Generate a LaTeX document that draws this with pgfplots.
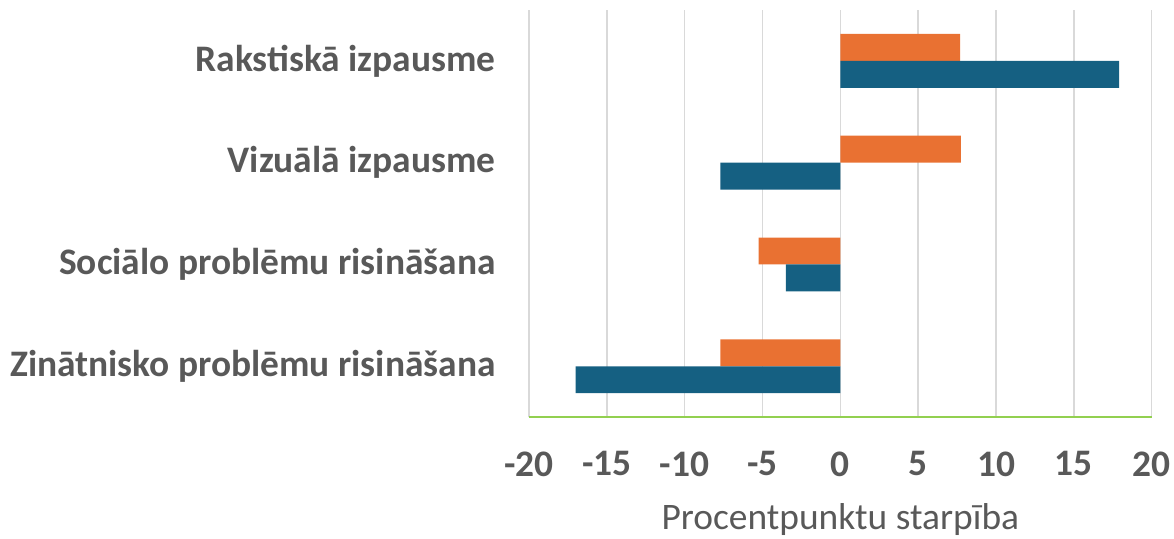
\documentclass[border=0pt]{standalone}
\usepackage{pgfplots}
\pgfplotsset{compat=1.18}
\usepackage{fontspec}
\setmainfont{Carlito}
\definecolor{txt}{HTML}{595959}
\definecolor{gridgray}{HTML}{D9D9D9}
\definecolor{axgreen}{HTML}{92D050}
\definecolor{cOrange}{HTML}{E97132}
\definecolor{cBlue}{HTML}{156082}
\begin{document}
\begin{tikzpicture}
\begin{axis}[
  scale only axis, width=624bp, height=408bp,
  xmin=-20, xmax=20, ymin=-0.5, ymax=3.5,
  xtick={-20,-15,-10,-5,0,5,10,15,20},
  xticklabels={-20,-15,-10,-5,0,5,10,15,20},
  ytick={0,1,2,3},
  yticklabels={Zinātnisko problēmu risināšana, Sociālo problēmu risināšana, Vizuālā izpausme, Rakstiskā izpausme},
  xmajorgrids, grid style={draw=gridgray, line width=1.5bp},
  axis x line*=bottom, axis y line*=left,
  x axis line style={draw=axgreen, line width=2bp, -},
  y axis line style={draw=none},
  major tick length=0pt,
  xticklabel style={font=\fontsize{37.5bp}{45bp}\selectfont\bfseries, text=txt, yshift=-31bp},
  yticklabel style={font=\fontsize{37.5bp}{45bp}\selectfont\bfseries, text=txt, xshift=-30bp},
  xlabel={Procentpunktu starpība},
  xlabel style={font=\fontsize{37.5bp}{45bp}\selectfont, text=txt, yshift=-20bp},
  clip=false,
]
\addplot[xbar, bar width=27bp, bar shift=13.5bp, fill=cOrange, draw=none] coordinates {(7.7,3) (7.75,2) (-5.25,1) (-7.7,0)};
\addplot[xbar, bar width=27bp, bar shift=-13.5bp, fill=cBlue, draw=none] coordinates {(17.9,3) (-7.7,2) (-3.5,1) (-17.0,0)};
\end{axis}
\path ([xshift=-530bp,yshift=-120bp]current axis.south west) rectangle ([xshift=20bp,yshift=10bp]current axis.north east);
\end{tikzpicture}
\end{document}
